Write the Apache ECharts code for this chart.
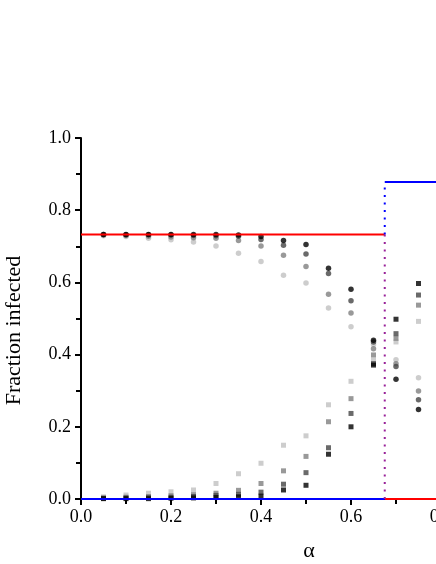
<!DOCTYPE html>
<html>
<head>
<meta charset="utf-8">
<script src="https://cdn.jsdelivr.net/npm/echarts@6/dist/echarts.min.js"></script>
<style>
  html, body { margin: 0; padding: 0; background: #fff; }
  #chart { width: 436px; height: 564px; }
</style>
</head>
<body>
<div id="chart"></div>
<script>
// alpha values of the simulation points
const alphas = [0.05, 0.10, 0.15, 0.20, 0.25, 0.30, 0.35, 0.40, 0.45, 0.50, 0.55, 0.60, 0.65, 0.70, 0.75];

// upper branch (circles), darkest to lightest
const upperBlack = [0.733, 0.733, 0.733, 0.733, 0.733, 0.733, 0.731, 0.727, 0.716, 0.705, 0.639, 0.581, 0.440, 0.332, 0.248];
const upperDark  = [0.733, 0.732, 0.732, 0.731, 0.730, 0.729, 0.728, 0.719, 0.703, 0.679, 0.625, 0.549, 0.435, 0.367, 0.275];
const upperGray  = [0.731, 0.730, 0.728, 0.726, 0.724, 0.722, 0.716, 0.701, 0.675, 0.644, 0.567, 0.515, 0.416, 0.375, 0.299];
const upperLight = [0.729, 0.727, 0.722, 0.718, 0.712, 0.701, 0.681, 0.658, 0.620, 0.598, 0.529, 0.477, 0.428, 0.386, 0.336];

// lower branch (squares), darkest to lightest
const lowerBlack = [0.001, 0.001, 0.001, 0.002, 0.003, 0.004, 0.006, 0.008, 0.025, 0.038, 0.124, 0.200, 0.371, 0.498, 0.597];
const lowerDark  = [0.002, 0.003, 0.004, 0.005, 0.007, 0.010, 0.013, 0.019, 0.041, 0.073, 0.142, 0.237, 0.375, 0.458, 0.565];
const lowerGray  = [0.003, 0.005, 0.007, 0.009, 0.012, 0.016, 0.024, 0.043, 0.078, 0.118, 0.214, 0.278, 0.399, 0.445, 0.537];
const lowerLight = [0.006, 0.011, 0.016, 0.020, 0.025, 0.043, 0.070, 0.099, 0.149, 0.175, 0.261, 0.326, 0.385, 0.435, 0.492];

// theory
const alphaC = 0.675;
const upperTheory = 0.733;
const jumpTheory = 0.878;
const xMax = 1.0;

const shades = ['#000000', '#454545', '#808080', '#c0c0c0'];
const pair = (ys) => alphas.map((a, i) => [a, ys[i]]);

const circleSets = [upperLight, upperGray, upperDark, upperBlack];
const squareSets = [lowerLight, lowerGray, lowerDark, lowerBlack];
const shadeOrder = [3, 2, 1, 0];

const series = [];
squareSets.forEach((ys, k) => {
  series.push({
    type: 'scatter', symbol: 'rect', symbolSize: 5, data: pair(ys),
    itemStyle: { color: shades[shadeOrder[k]] }, z: 2
  });
});
circleSets.forEach((ys, k) => {
  series.push({
    type: 'scatter', symbol: 'circle', symbolSize: 5.5, data: pair(ys),
    itemStyle: { color: shades[shadeOrder[k]] }, z: 2
  });
});

const lineSeries = (data, color, type, width) => ({
  type: 'line', data: data, symbol: 'none', z: 3,
  lineStyle: { color: color, width: width, type: type }
});
series.push(lineSeries([[0, upperTheory], [alphaC, upperTheory]], '#ff0000', 'solid', 2));
series.push(lineSeries([[alphaC, 0], [xMax, 0]], '#ff0000', 'solid', 2));
series.push(lineSeries([[0, 0], [alphaC, 0]], '#0000ff', 'solid', 2));
series.push(lineSeries([[alphaC, jumpTheory], [xMax, jumpTheory]], '#0000ff', 'solid', 2));
series.push(lineSeries([[alphaC, upperTheory], [alphaC, jumpTheory]], '#0000ff', [2, 5.5], 2));
series.push(lineSeries([[alphaC, 0], [alphaC, upperTheory]], '#992299', [2, 5.5], 2));

const font = "'Liberation Serif', 'Times New Roman', serif";
const chart = echarts.init(document.getElementById('chart'));
chart.setOption({
  animation: false,
  grid: { left: 81, top: 138, bottom: 65, width: 450, outerBoundsMode: 'none', containLabel: false },
  xAxis: {
    type: 'value', min: 0, max: xMax, interval: 0.2,
    name: 'α', nameLocation: 'middle', nameGap: 41,
    nameTextStyle: { fontFamily: font, fontSize: 22, color: '#000', padding: [0, 0, 0, 6] },
    axisLine: { onZero: false, lineStyle: { color: '#000', width: 2 } },
    axisTick: { show: true, inside: false, length: 6, lineStyle: { color: '#000', width: 2 } },
    minorTick: { show: true, splitNumber: 2, length: 5, lineStyle: { color: '#000', width: 2 } },
    axisLabel: { fontFamily: font, fontSize: 18, color: '#000', margin: 9,
      formatter: (v) => v.toFixed(1) },
    splitLine: { show: false }
  },
  yAxis: {
    type: 'value', min: 0, max: 1, interval: 0.2,
    name: 'Fraction infected', nameLocation: 'middle', nameGap: 56,
    nameTextStyle: { fontFamily: font, fontSize: 22, color: '#000', padding: [0, 24, 0, 0] },
    axisLine: { show: true, onZero: false, lineStyle: { color: '#000', width: 2 } },
    axisTick: { show: true, inside: false, length: 6, lineStyle: { color: '#000', width: 2 } },
    minorTick: { show: true, splitNumber: 2, length: 5, lineStyle: { color: '#000', width: 2 } },
    axisLabel: { fontFamily: font, fontSize: 18, color: '#000', margin: 10,
      formatter: (v) => v.toFixed(1) },
    splitLine: { show: false }
  },
  series: series
});
</script>
</body>
</html>
